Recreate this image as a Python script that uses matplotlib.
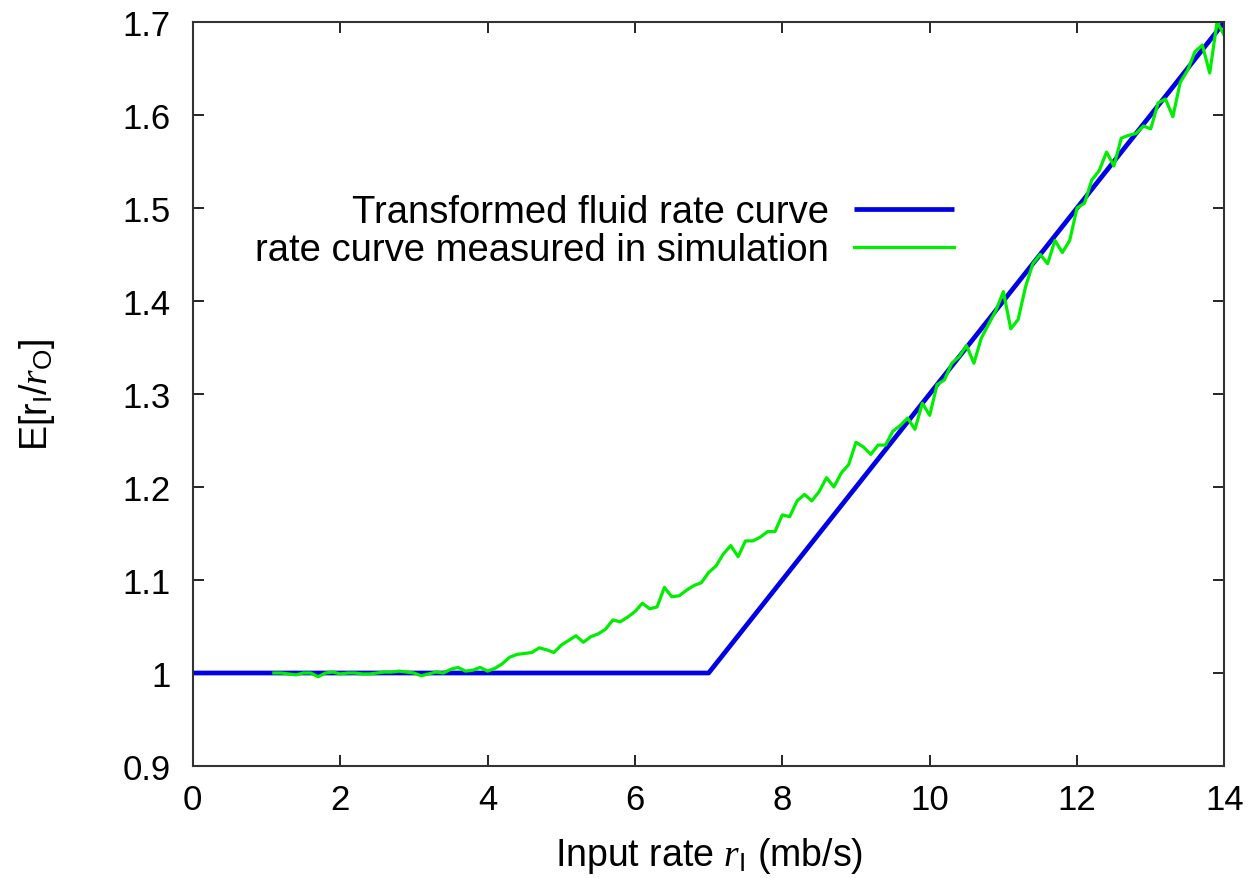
import matplotlib
matplotlib.use("Agg")
import matplotlib.pyplot as plt

plt.rcParams['font.family'] = ['Liberation Sans', 'DejaVu Sans']
plt.rcParams['mathtext.fontset'] = 'custom'
plt.rcParams['mathtext.rm'] = 'Liberation Sans'
plt.rcParams['mathtext.it'] = 'Liberation Serif:italic'

# Transformed fluid rate curve
fluid_x = [0, 7, 14]
fluid_y = [1.0, 1.0, 1.7]

# Rate curve measured in simulation
sim_x = [1.1, 1.2, 1.3, 1.4, 1.5, 1.6, 1.7, 1.8, 1.9, 2.0,
         2.1, 2.2, 2.3, 2.4, 2.5, 2.6, 2.7, 2.8, 2.9, 3.0,
         3.1, 3.2, 3.3, 3.4, 3.5, 3.6, 3.7, 3.8, 3.9, 4.0,
         4.1, 4.2, 4.3, 4.4, 4.5, 4.6, 4.7, 4.8, 4.9, 5.0,
         5.1, 5.2, 5.3, 5.4, 5.5, 5.6, 5.7, 5.8, 5.9, 6.0,
         6.1, 6.2, 6.3, 6.4, 6.5, 6.6, 6.7, 6.8, 6.9, 7.0,
         7.1, 7.2, 7.3, 7.4, 7.5, 7.6, 7.7, 7.8, 7.9, 8.0,
         8.1, 8.2, 8.3, 8.4, 8.5, 8.6, 8.7, 8.8, 8.9, 9.0,
         9.1, 9.2, 9.3, 9.4, 9.5, 9.6, 9.7, 9.8, 9.9, 10.0,
         10.1, 10.2, 10.3, 10.4, 10.5, 10.6, 10.7, 10.8, 10.9, 11.0,
         11.1, 11.2, 11.3, 11.4, 11.5, 11.6, 11.7, 11.8, 11.9, 12.0,
         12.1, 12.2, 12.3, 12.4, 12.5, 12.6, 12.7, 12.8, 12.9, 13.0,
         13.1, 13.2, 13.3, 13.4, 13.5, 13.6, 13.7, 13.8, 13.9, 14.0]
sim_y = [1.000, 1.000, 0.999, 0.998, 1.000, 1.000, 0.996, 1.000, 1.001, 0.999,
         1.000, 1.000, 0.999, 0.999, 1.000, 1.001, 1.001, 1.002, 1.001, 1.000,
         0.997, 0.999, 1.001, 1.000, 1.004, 1.006, 1.002, 1.003, 1.006, 1.002,
         1.005, 1.010, 1.017, 1.020, 1.021, 1.022, 1.027, 1.025, 1.022, 1.030,
         1.035, 1.040, 1.033, 1.039, 1.042, 1.047, 1.057, 1.055, 1.060, 1.066,
         1.075, 1.069, 1.071, 1.092, 1.082, 1.083, 1.089, 1.094, 1.097, 1.108,
         1.115, 1.128, 1.137, 1.125, 1.142, 1.142, 1.146, 1.152, 1.152, 1.170,
         1.168, 1.185, 1.192, 1.185, 1.195, 1.210, 1.200, 1.215, 1.224, 1.248,
         1.243, 1.235, 1.245, 1.245, 1.260, 1.266, 1.274, 1.262, 1.290, 1.277,
         1.310, 1.315, 1.333, 1.340, 1.352, 1.333, 1.360, 1.375, 1.390, 1.410,
         1.370, 1.380, 1.415, 1.440, 1.450, 1.440, 1.465, 1.452, 1.465, 1.500,
         1.505, 1.530, 1.540, 1.560, 1.545, 1.575, 1.578, 1.580, 1.588, 1.585,
         1.613, 1.617, 1.598, 1.635, 1.648, 1.668, 1.675, 1.645, 1.700, 1.685]

x_ticks = [0, 2, 4, 6, 8, 10, 12, 14]
y_ticks = [0.9, 1.0, 1.1, 1.2, 1.3, 1.4, 1.5, 1.6, 1.7]
y_tick_labels = ['0.9', '1', '1.1', '1.2', '1.3', '1.4', '1.5', '1.6', '1.7']

fig = plt.figure(figsize=(12.52, 8.79), dpi=100)
ax = fig.add_axes([0.154, 0.1274, 0.824, 0.8466])

ax.plot(fluid_x, fluid_y, color='#0000e6', lw=3.4, label='Transformed fluid rate curve', solid_capstyle='butt')
ax.plot(sim_x, sim_y, color='#00ee00', lw=2.3, label='rate curve measured in simulation')

ax.set_xlim(0, 14)
ax.set_ylim(0.9, 1.7)
ax.set_xticks(x_ticks)
ax.set_yticks(y_ticks)
ax.set_yticklabels(y_tick_labels)
ax.tick_params(direction='in', length=8, width=1.2, labelsize=25, top=True, right=True)
ax.tick_params(axis='x', pad=12)
ax.tick_params(axis='y', pad=16)
for s in ax.spines.values():
    s.set_linewidth(1.5)
    s.set_color('#333333')

ax.set_xlabel(r'Input rate $r_\mathrm{I}$ (mb/s)', fontsize=27)
ax.set_ylabel(r'E[r$_\mathrm{I}$/$r_\mathrm{O}$]', fontsize=27)
ax.xaxis.set_label_coords(0.5, -0.093)
ax.yaxis.set_label_coords(-0.132, 0.5)

leg = ax.legend(loc='upper right', bbox_to_anchor=(0.738, 0.768), frameon=False,
                markerfirst=False, fontsize=27.5, handlelength=2.62,
                labelspacing=0.05, handletextpad=0.66, borderpad=0, borderaxespad=0)
for t in leg.get_texts():
    t.set_ha('right')
leg._legend_box.align = 'right'

fig.savefig('out.png', dpi=100)
